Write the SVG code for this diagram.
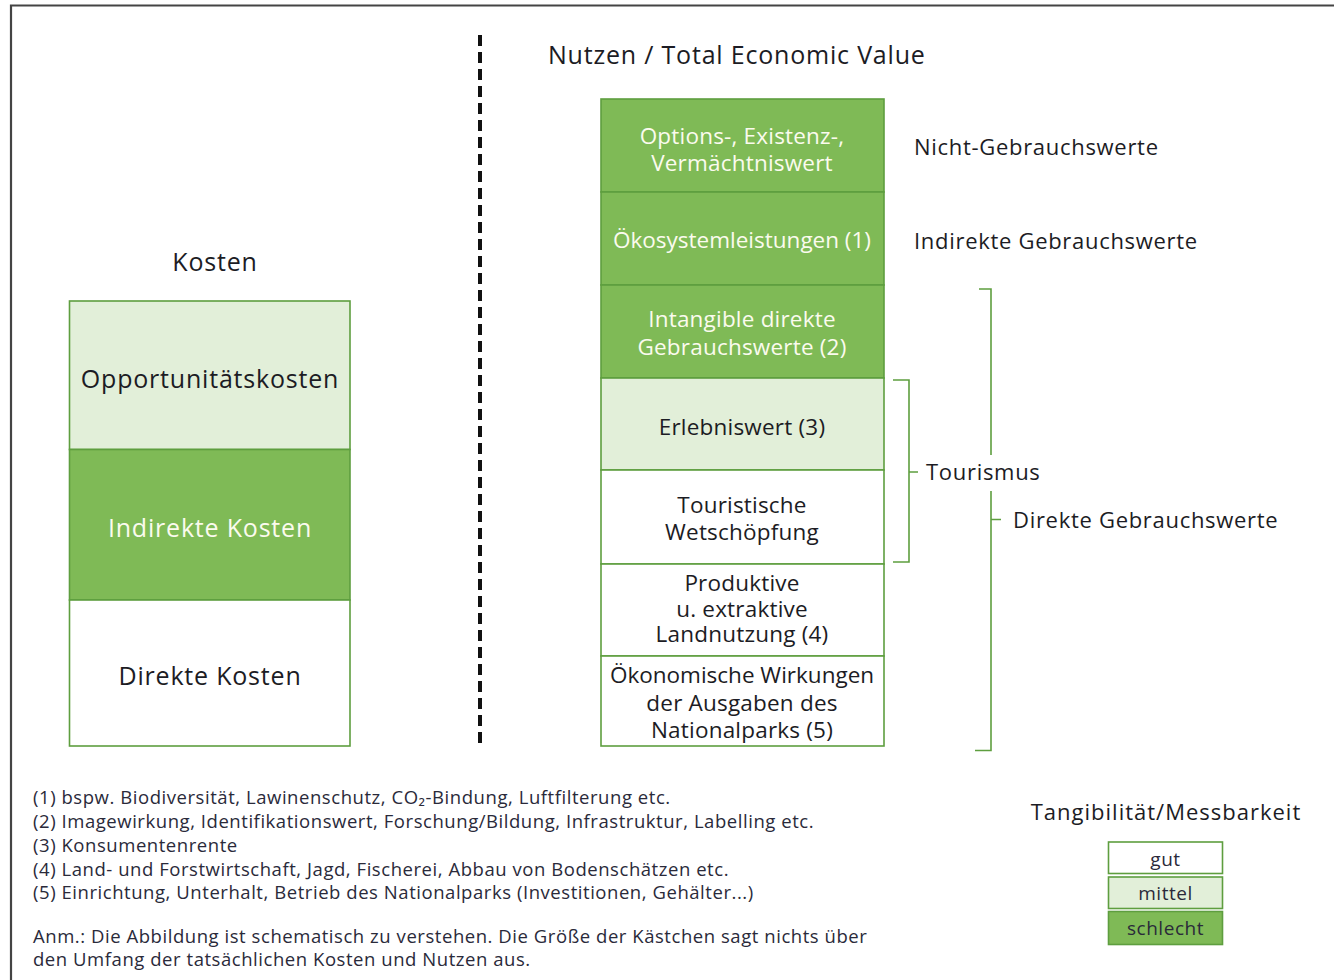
<svg xmlns="http://www.w3.org/2000/svg" width="1334" height="980" viewBox="0 0 1334 980">
  <style>
    text { font-family: "Open Sans", "Noto Sans", "DejaVu Sans", sans-serif; fill: #1c1c24; }
    .box { stroke: #5e9e3f; stroke-width: 1.6; }
    .dark { fill: #7fba56; }
    .light { fill: #e2efd9; }
    .white { fill: #ffffff; }
    .lbl { font-size: 22.5px; text-anchor: middle; letter-spacing: 0.2px; }
    .big { font-size: 25px; letter-spacing: 0.8px; }
    .inv { fill: #fbfbee; }
    .side { font-size: 22px; letter-spacing: 0.7px; }
    .note { font-size: 18.5px; letter-spacing: 0.55px; fill: #2a2a3a; }
    .brk { fill: none; stroke: #5e9e3f; stroke-width: 1.6; }
  </style>

  <rect width="1334" height="980" fill="#ffffff"/>
  <!-- outer frame -->
  <path d="M11 980 V5.5 H1334" fill="none" stroke="#444" stroke-width="2.2"/>

  <!-- divider between costs and benefits -->
  <line x1="480" y1="35" x2="480" y2="748" stroke="#111" stroke-width="4" stroke-dasharray="11 6"/>

  <!-- headings -->
  <text class="big" x="548" y="64">Nutzen / Total Economic Value</text>
  <text class="big" x="215" y="271" text-anchor="middle">Kosten</text>

  <!-- cost column -->
  <g id="opportunitaetskosten">
    <rect class="box light" x="69.5" y="301" width="280.5" height="148.5"/>
    <text class="lbl big" x="210" y="388">Opportunitätskosten</text>
  </g>
  <g id="indirekte-kosten">
    <rect class="box dark" x="69.5" y="449.5" width="280.5" height="150.5"/>
    <text class="lbl big inv" x="210" y="537">Indirekte Kosten</text>
  </g>
  <g id="direkte-kosten">
    <rect class="box white" x="69.5" y="600" width="280.5" height="146"/>
    <text class="lbl big" x="210" y="685">Direkte Kosten</text>
  </g>

  <!-- benefit column -->
  <g id="options-existenz">
    <rect class="box dark" x="601" y="99" width="283" height="93"/>
    <text class="lbl inv" x="742" y="144">Options-, Existenz-,</text>
    <text class="lbl inv" x="742" y="171">Vermächtniswert</text>
  </g>
  <g id="oekosystemleistungen">
    <rect class="box dark" x="601" y="192" width="283" height="93"/>
    <text class="lbl inv" x="742" y="248" style="letter-spacing:0">Ökosystemleistungen (1)</text>
  </g>
  <g id="intangible">
    <rect class="box dark" x="601" y="285" width="283" height="93"/>
    <text class="lbl inv" x="742" y="327">Intangible direkte</text>
    <text class="lbl inv" x="742" y="355">Gebrauchswerte (2)</text>
  </g>
  <g id="erlebniswert">
    <rect class="box light" x="601" y="378" width="283" height="92"/>
    <text class="lbl" x="742" y="435">Erlebniswert (3)</text>
  </g>
  <g id="touristische-wertschoepfung">
    <rect class="box white" x="601" y="470" width="283" height="94"/>
    <text class="lbl" x="742" y="513">Touristische</text>
    <text class="lbl" x="742" y="540">Wetschöpfung</text>
  </g>
  <g id="landnutzung">
    <rect class="box white" x="601" y="564" width="283" height="92"/>
    <text class="lbl" x="742" y="591">Produktive</text>
    <text class="lbl" x="742" y="617">u. extraktive</text>
    <text class="lbl" x="742" y="642">Landnutzung (4)</text>
  </g>
  <g id="ausgaben-nationalpark">
    <rect class="box white" x="601" y="656" width="283" height="90"/>
    <text class="lbl" x="742" y="683" style="letter-spacing:0">Ökonomische Wirkungen</text>
    <text class="lbl" x="742" y="711">der Ausgaben des</text>
    <text class="lbl" x="742" y="738">Nationalparks (5)</text>
  </g>

  <!-- value category labels -->
  <g id="nicht-gebrauchswerte">
    <text class="side" x="914" y="155">Nicht-Gebrauchswerte</text>
  </g>
  <g id="indirekte-gebrauchswerte">
    <text class="side" x="914" y="249">Indirekte Gebrauchswerte</text>
  </g>

  <!-- brackets -->
  <g id="connectors">
    <path class="brk" d="M893 380 H909 V562 H893 M909 472 H918"/>
    <path class="brk" d="M979 289 H991 V455 M991 491 V750.5 H975 M991 519.5 H1001"/>
  </g>
  <g id="tourismus">
    <text class="side" x="926" y="480">Tourismus</text>
  </g>
  <g id="direkte-gebrauchswerte">
    <text class="side" x="1013" y="528">Direkte Gebrauchswerte</text>
  </g>

  <!-- footnotes -->
  <g id="footnotes">
    <text class="note" x="33" y="804">(1) bspw. Biodiversität, Lawinenschutz, CO₂-Bindung, Luftfilterung etc.</text>
    <text class="note" x="33" y="828">(2) Imagewirkung, Identifikationswert, Forschung/Bildung, Infrastruktur, Labelling etc.</text>
    <text class="note" x="33" y="852">(3) Konsumentenrente</text>
    <text class="note" x="33" y="876">(4) Land- und Forstwirtschaft, Jagd, Fischerei, Abbau von Bodenschätzen etc.</text>
    <text class="note" x="33" y="899">(5) Einrichtung, Unterhalt, Betrieb des Nationalparks (Investitionen, Gehälter...)</text>
    <text class="note" x="33" y="943">Anm.: Die Abbildung ist schematisch zu verstehen. Die Größe der Kästchen sagt nichts über</text>
    <text class="note" x="33" y="966">den Umfang der tatsächlichen Kosten und Nutzen aus.</text>
  </g>

  <!-- legend -->
  <g id="legend">
    <text x="1166" y="820" style="font-size:22px;letter-spacing:1px" text-anchor="middle">Tangibilität/Messbarkeit</text>
    <rect class="box white" x="1108.5" y="842" width="114" height="31.5"/>
    <text class="note" x="1165.5" y="866" text-anchor="middle" style="font-size:19px">gut</text>
    <rect class="box light" x="1108.5" y="877" width="114" height="31.5"/>
    <text class="note" x="1165.5" y="900" text-anchor="middle" style="font-size:19px">mittel</text>
    <rect class="box dark" x="1108.5" y="911.5" width="114" height="33"/>
    <text class="note" x="1165.5" y="935" text-anchor="middle" style="font-size:19px">schlecht</text>
  </g>
</svg>
